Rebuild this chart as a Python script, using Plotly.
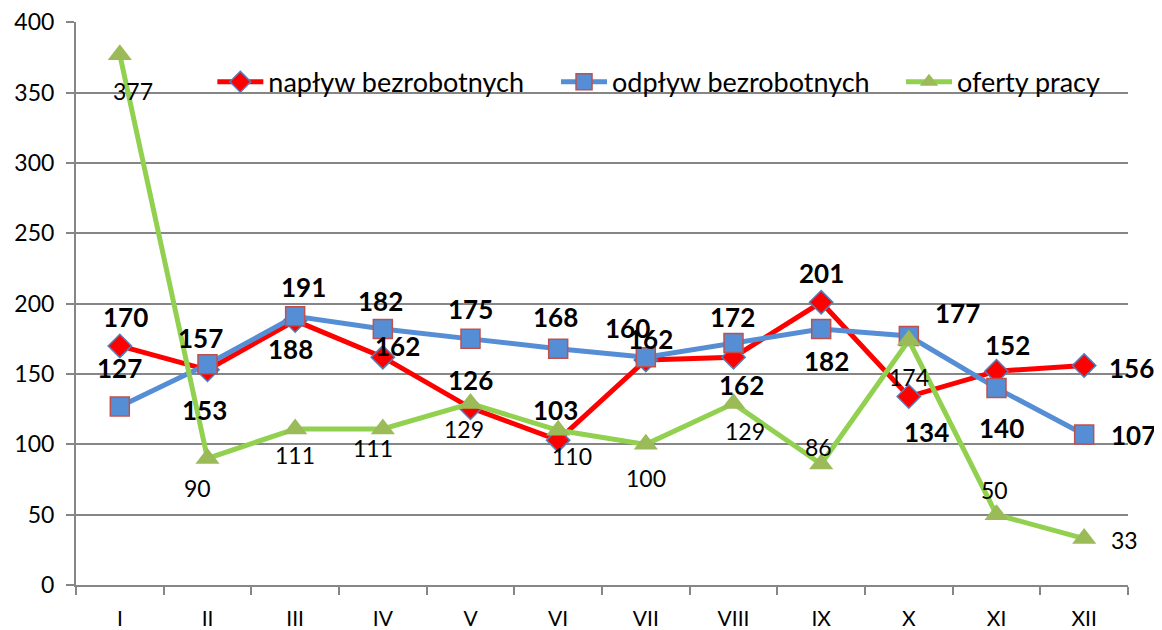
import plotly.graph_objects as go

months = ["I", "II", "III", "IV", "V", "VI", "VII", "VIII", "IX", "X", "XI", "XII"]
naplyw = [170, 153, 188, 162, 126, 103, 160, 162, 201, 134, 152, 156]
odplyw = [127, 157, 191, 182, 175, 168, 162, 172, 182, 177, 140, 107]
oferty = [377, 90, 111, 111, 129, 110, 100, 129, 86, 174, 50, 33]

names = ["napływ bezrobotnych", "odpływ bezrobotnych", "oferty pracy"]

# label pixel offsets (dx, dy with dy positive = down), style only
off_naplyw = [(6, -29), (-3, 40), (-5, 28), (15, -11), (0, -28), (-3, -30), (-18, -32),
              (8, 28), (0, -29), (18, 35), (11, -26), (47, 2)]
off_odplyw = [(0, -38), (-7, -26), (8, -29), (-2, -28), (0, -30), (-3, -32), (5, -18),
              (-1, -26), (5, 32), (49, -23), (5, 40), (49, 0)]
off_oferty = [(13, 36), (-10, 30), (0, 26), (-10, 19), (-7, 25), (14, 26), (0, 34),
              (11, 27), (-3, -17), (0, 37), (-2, -25), (40, 1)]

FONT = "Lato"

fig = go.Figure()
fig.add_trace(go.Scatter(
    x=months, y=naplyw, name=names[0], mode="lines+markers", legend="legend",
    line=dict(color="#FF0000", width=5),
    marker=dict(symbol="diamond", size=18, color="#FF0000",
                line=dict(color="#4F81BD", width=1.5)),
))
fig.add_trace(go.Scatter(
    x=months, y=odplyw, name=names[1], mode="lines+markers", legend="legend2",
    line=dict(color="#558ED5", width=5),
    marker=dict(symbol="square", size=19, color="#558ED5",
                line=dict(color="#C0504D", width=1.5)),
))
fig.add_trace(go.Scatter(
    x=months, y=oferty, name=names[2], mode="lines+markers", legend="legend3",
    line=dict(color="#92D050", width=5),
    marker=dict(symbol="triangle-up", size=21, color="#9BBB59",
                line=dict(color="#9BBB59", width=0)),
))

annotations = []
for vals, offs, bold in [(naplyw, off_naplyw, True), (odplyw, off_odplyw, True),
                         (oferty, off_oferty, False)]:
    for m, v, (dx, dy) in zip(months, vals, offs):
        annotations.append(dict(
            x=m, y=v, xref="x", yref="y", text=f"<b>{v}</b>" if bold else str(v),
            showarrow=False, xshift=dx, yshift=-dy,
            font=dict(family=FONT, size=26 if bold else 23, color="#000000"),
        ))

def leg(x):
    return dict(orientation="h", x=x, y=0.893, xanchor="left", yanchor="middle",
                font=dict(family=FONT, size=27), bgcolor="rgba(0,0,0,0)",
                itemwidth=46)

# page body adds an 8px offset; figure sized so the plot lands where the reference has it
fig.update_layout(
    width=1154, height=622,
    margin=dict(l=68, r=34, t=14, b=45),
    paper_bgcolor="white", plot_bgcolor="white",
    font=dict(family=FONT, color="#000000"),
    hovermode=False,
    showlegend=True,
    legend=leg(0.1296),
    legend2=leg(0.4563),
    legend3=leg(0.7842),
    annotations=annotations,
)
fig.update_xaxes(
    type="category", showgrid=False, showline=True, linecolor="#868686", linewidth=2,
    ticks="outside", tickson="boundaries", ticklen=8, tickcolor="#868686", tickwidth=2,
    tickfont=dict(family=FONT, size=21), ticklabelstandoff=14,
    range=[-0.5, 11.5], automargin=False,
)
fig.update_yaxes(
    range=[0, 400.3], tick0=0, dtick=50, showgrid=True, gridcolor="#868686", gridwidth=2,
    showline=True, linecolor="#868686", linewidth=2, ticks="outside", ticklen=8,
    tickcolor="#868686", tickwidth=2, tickfont=dict(family=FONT, size=23),
    ticklabelstandoff=7, zeroline=False, automargin=False, ticklabeloverflow="allow",
)

fig.write_html("out.html")
